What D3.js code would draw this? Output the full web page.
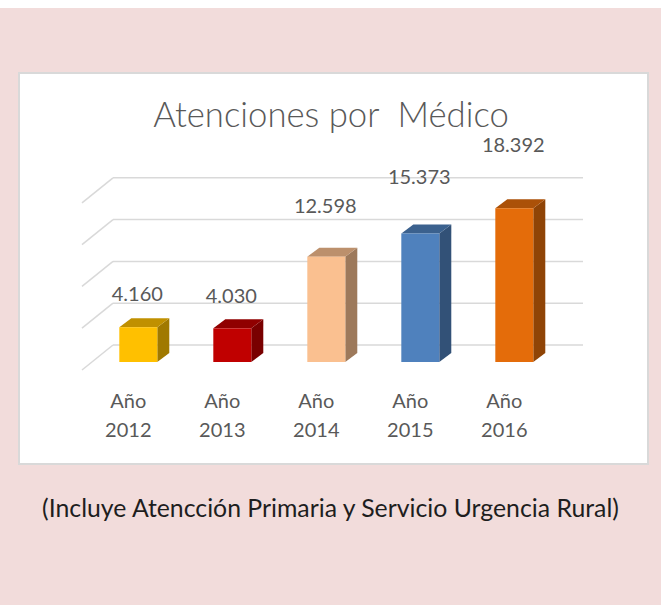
<!DOCTYPE html>
<html>
<head>
<meta charset="utf-8">
<script src="https://cdn.jsdelivr.net/npm/d3@7"></script>
<style>
  body { margin: 0; background: #fff; }
  text { font-family: Lato, "Open Sans", sans-serif; }
</style>
</head>
<body>
<div id="chart"></div>
<script>
// data
const years = ["2012", "2013", "2014", "2015", "2016"];
const yearPrefix = "Año";
const values = [4160, 4030, 12598, 15373, 18392];
const gridTicks = [0, 5000, 10000, 15000, 20000];
const barColors = ["#FFC000", "#C00000", "#FAC090", "#4F81BD", "#E46C0A"];
const title = "Atenciones por  Médico";
const caption = "(Incluye Atencción Primaria y Servicio Urgencia Rural)";

const W = 661, H = 605;
const depthX = 12, depthY = -9;   // 3d offset of the bar depth
const wallShift = 17;             // back wall is 17px above the front floor

const svg = d3.select("#chart").append("svg")
  .attr("width", W)
  .attr("height", H);

// page background
svg.append("rect").attr("x", 0).attr("y", 8).attr("width", W).attr("height", H - 8)
  .attr("fill", "#F2DCDB");

// chart box
svg.append("rect").attr("x", 19).attr("y", 73).attr("width", 629).attr("height", 391)
  .attr("fill", "#fff").attr("stroke", "#D9D9D9").attr("stroke-width", 2);

const x = d3.scaleBand()
  .domain(years)
  .range([91.3, 561.3])
  .paddingInner(0.596)
  .paddingOuter(0.298);

const y = d3.scaleLinear()
  .domain([0, 20000])
  .range([362, 194.8]);

// data labels sit on their own rail in the 3d view
const yLabel = d3.scaleLinear()
  .domain([0, 20000])
  .range([345, 135]);

const fmt = d3.formatLocale({decimal: ",", thousands: ".", grouping: [3], currency: ["$", ""]}).format(",d");

// gridlines on back wall + side wall
const grid = svg.append("g");
gridTicks.forEach(t => {
  grid.append("line")
    .attr("x1", 113).attr("x2", 583)
    .attr("y1", y(t) - wallShift).attr("y2", y(t) - wallShift)
    .attr("stroke", "#D9D9D9").attr("stroke-width", 1.5);
  grid.append("line")
    .attr("x1", 82).attr("y1", y(t) + 8)
    .attr("x2", 113).attr("y2", y(t) - wallShift)
    .attr("stroke", "#D9D9D9").attr("stroke-width", 1.5);
});

// bars
const bars = svg.append("g");
years.forEach((yr, i) => {
  const x0 = x(yr), w = x.bandwidth();
  const yt = y(values[i]), yb = y(0);
  const c = d3.color(barColors[i]);
  bars.append("polygon")
    .attr("points", [[x0 + w, yt], [x0 + w + depthX, yt + depthY], [x0 + w + depthX, yb + depthY], [x0 + w, yb]].join(" "))
    .attr("fill", c.darker(1.3));
  bars.append("polygon")
    .attr("points", [[x0, yt], [x0 + depthX, yt + depthY], [x0 + w + depthX, yt + depthY], [x0 + w, yt]].join(" "))
    .attr("fill", c.darker(0.8));
  bars.append("rect")
    .attr("x", x0).attr("y", yt)
    .attr("width", w).attr("height", yb - yt)
    .attr("fill", c);
});

// value labels
svg.append("g").selectAll("text")
  .data(values)
  .join("text")
  .attr("x", (d, i) => x(years[i]) + x.bandwidth() / 2 - 1)
  .attr("y", d => yLabel(d))
  .attr("text-anchor", "middle")
  .attr("font-size", 20)
  .attr("fill", "#595959")
  .text(d => fmt(d));

// category labels
const cat = svg.append("g").selectAll("text")
  .data(years)
  .join("text")
  .attr("x", d => x(d) + x.bandwidth() / 2 - 10)
  .attr("y", 408)
  .attr("text-anchor", "middle")
  .attr("font-size", 20)
  .attr("fill", "#595959");
cat.append("tspan").text(yearPrefix);
cat.append("tspan")
  .attr("x", d => x(d) + x.bandwidth() / 2 - 10)
  .attr("y", 437)
  .text(d => d);

// title
svg.append("text")
  .attr("x", 331).attr("y", 127)
  .attr("text-anchor", "middle")
  .attr("font-size", 34.7)
  .attr("font-weight", 300)
  .attr("fill", "#595959")
  .style("white-space", "pre")
  .text(title);

// caption
svg.append("text")
  .attr("x", 330.5).attr("y", 517)
  .attr("text-anchor", "middle")
  .attr("font-size", 24.8)
  .attr("fill", "#1E1E1E")
  .text(caption);
</script>
</body>
</html>
